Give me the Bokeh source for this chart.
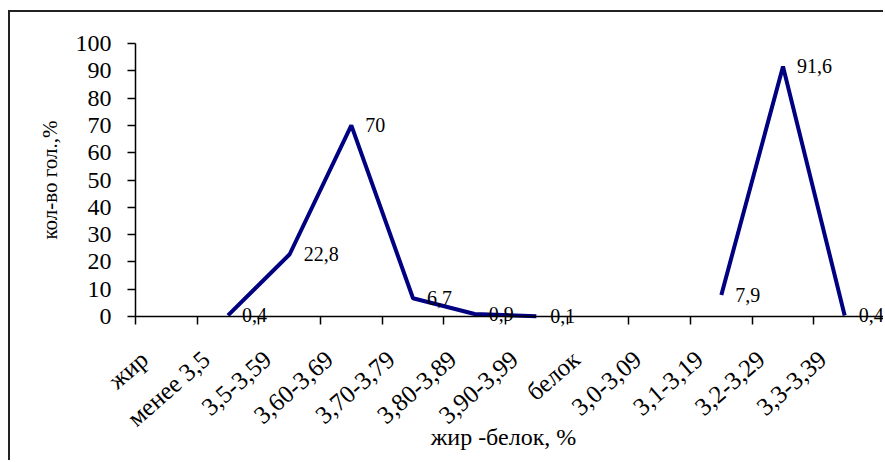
import numpy as np
from bokeh.plotting import figure
from bokeh.models import FixedTicker, Range1d, Label
from bokeh.embed import file_html
from bokeh.resources import INLINE

categories = ["жир", "менее 3,5", "3,5-3,59", "3,60-3,69", "3,70-3,79",
              "3,80-3,89", "3,90-3,99", "белок", "3,0-3,09", "3,1-3,19",
              "3,2-3,29", "3,3-3,39"]
values = [None, 0.4, 22.8, 70, 6.7, 0.9, 0.1, None, None, 7.9, 91.6, 0.4]
y_ticks = [0, 10, 20, 30, 40, 50, 60, 70, 80, 90, 100]
x_title = "жир -белок, %"
y_title = "кол-во гол.,%"

FONT = "'Liberation Serif', 'Times New Roman', serif"

# ---- layout (page pixels) ----
W, H = 885, 462
MX, MY, BW = 8, 10, 2            # outer frame offset and border width
AX_L, AX_R = 135, 875            # x extent of the category axis
AX_B, AX_T = 316, 43             # y pixel of 0 and of 100
n = len(categories)
px_x = (AX_R - AX_L) / n
px_y = (AX_B - AX_T) / 100.0
x_rng = Range1d(-(AX_L - MX - BW) / px_x, (W - AX_L) / px_x)
y_rng = Range1d(-(H - AX_B) / px_y, 100 + (AX_T - MY - BW) / px_y)

p = figure(width=W - MX - BW, height=H - MY - BW, output_backend="svg",
           toolbar_location=None, x_range=x_rng, y_range=y_rng,
           min_border=0)
p.margin = (MY, 0, 0, MX)
p.styles = {"border-left": "2px solid #222222", "border-top": "2px solid #222222"}
p.outline_line_color = None
p.grid.visible = False
p.background_fill_color = "white"
p.border_fill_color = "white"

xs = np.arange(n) + 0.5
ys = np.array([np.nan if v is None else v for v in values], dtype=float)
p.line(xs, ys, line_color="#000080", line_width=4)


def add_text(text, x, y, size, **kw):
    p.add_layout(Label(x=x, y=y, text=text, text_font=FONT,
                       text_font_size=size, text_color="black",
                       level="overlay", **kw))


# data labels
for x, y in zip(xs, ys):
    if not np.isnan(y):
        add_text(("%g" % y).replace(".", ","), x, y, "20px", x_offset=14,
                 text_baseline="middle", text_align="left")

# y axis at x = 0
p.yaxis.fixed_location = 0
p.yaxis.bounds = (0, 100)
p.yaxis.ticker = FixedTicker(ticks=y_ticks)
p.yaxis.major_label_overrides = {t: "" for t in y_ticks}
p.yaxis.major_tick_out = 8
p.yaxis.major_tick_in = 0
p.yaxis.minor_tick_line_color = None
p.yaxis.axis_line_width = 1.5
p.yaxis.major_tick_line_width = 1.5
for t in y_ticks:
    add_text(str(t), 0, t, "24px", x_offset=-24, text_align="right",
             text_baseline="middle")
add_text(y_title, 0, 50, "21px", x_offset=-86, angle=np.pi / 2,
         text_align="center", text_baseline="middle")

# x axis at y = 0: ticks at bin boundaries, rotated labels at bin centres
p.xaxis.fixed_location = 0
p.xaxis.bounds = (0, x_rng.end)
p.xaxis.ticker = FixedTicker(ticks=[], minor_ticks=list(range(n)))
p.xaxis.major_tick_out = 0
p.xaxis.major_tick_in = 0
p.xaxis.minor_tick_out = 8
p.xaxis.minor_tick_in = 0
p.xaxis.minor_tick_line_color = "black"
p.xaxis.minor_tick_line_width = 1.5
p.xaxis.axis_line_width = 1.5
for x, c in zip(xs, categories):
    add_text(c, x, 0, "25px", x_offset=-22, y_offset=-39, angle=0.72,
             text_align="right", text_baseline="middle")
add_text(x_title, n / 2, 0, "24px", x_offset=-2, y_offset=-120,
         text_align="center", text_baseline="middle")

open("out.html", "w").write(file_html(p, INLINE))
